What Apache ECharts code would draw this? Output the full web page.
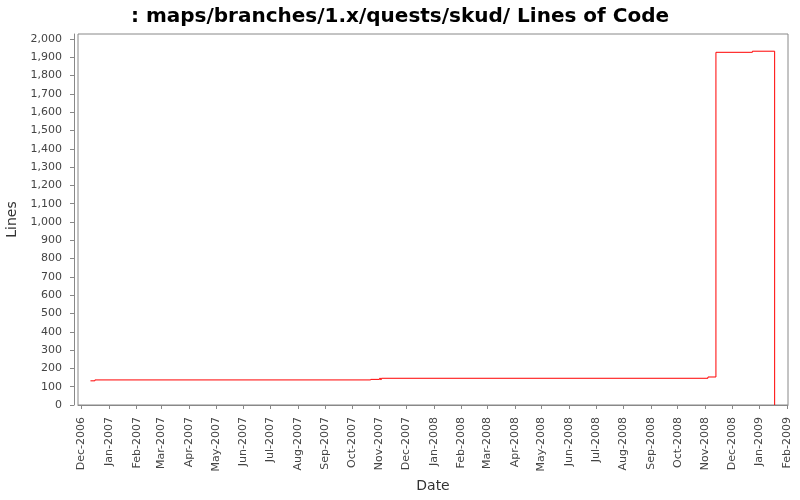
<!DOCTYPE html>
<html>
<head>
<meta charset="utf-8">
<script src="https://cdn.jsdelivr.net/npm/echarts@6/dist/echarts.min.js"></script>
<style>html,body{margin:0;padding:0;background:#fff}#c{width:800px;height:500px}</style>
</head>
<body>
<div id="c"></div>
<script>
// Data (dates as YYYY-MM-DD, values = lines of code)
var dates = ['2006-12-11','2006-12-16','2007-10-22','2007-11-01','2007-11-02','2007-11-03','2008-11-04','2008-11-13','2008-12-24','2009-01-18'];
var lines = [132, 137, 140, 146, 139, 146, 153, 1927, 1933, 0];
var yTicks = [0,100,200,300,400,500,600,700,800,900,1000,1100,1200,1300,1400,1500,1600,1700,1800,1900,2000];
var monthTicks = ['2006-12','2007-01','2007-02','2007-03','2007-04','2007-05','2007-06','2007-07','2007-08','2007-09','2007-10','2007-11','2007-12','2008-01','2008-02','2008-03','2008-04','2008-05','2008-06','2008-07','2008-08','2008-09','2008-10','2008-11','2008-12','2009-01','2009-02'];
var monthNames = ['Jan','Feb','Mar','Apr','May','Jun','Jul','Aug','Sep','Oct','Nov','Dec'];

function ts(s){var p=s.split('-');return Date.UTC(+p[0],+p[1]-1,p[2]?+p[2]:1);}
var seriesData = dates.map(function(d,i){return [ts(d), lines[i]];});
var xTickVals = monthTicks.map(ts);

var chart = echarts.init(document.getElementById('c'));
chart.setOption({
  backgroundColor:'#fff',
  animation:false,
  title:{text:': maps/branches/1.x/quests/skud/ Lines of Code',left:'center',top:2,
    textStyle:{fontFamily:'DejaVu Sans',fontSize:20,fontWeight:'bold',color:'#000'}},
  grid:{left:78,right:12,top:34,bottom:95,show:true,borderColor:'#888',borderWidth:1,backgroundColor:'#fff',
    containLabel:false,outerBoundsMode:'none'},
  xAxis:{type:'value',min:ts('2006-11-27'),max:ts('2009-02-02'),offset:4,
    name:'Date',nameLocation:'middle',nameGap:70,
    nameTextStyle:{fontFamily:'DejaVu Sans',fontSize:14,color:'#333'},
    axisLine:{show:true,lineStyle:{color:'#888'}},
    axisTick:{show:true,customValues:xTickVals,length:4,lineStyle:{color:'#888'}},
    splitLine:{show:false},
    axisLabel:{customValues:xTickVals,rotate:90,fontFamily:'DejaVu Sans',fontSize:11,color:'#444',margin:8,
      formatter:function(v){var d=new Date(v);return monthNames[d.getUTCMonth()]+'-'+d.getUTCFullYear();}}
  },
  yAxis:{type:'value',min:0,max:2027,offset:4,
    name:'Lines',nameLocation:'middle',nameGap:38,
    nameTextStyle:{fontFamily:'DejaVu Sans',fontSize:14,color:'#333'},
    axisLine:{show:true,lineStyle:{color:'#888'}},
    axisTick:{show:true,customValues:yTicks,length:4,lineStyle:{color:'#888'}},
    splitLine:{show:false},
    axisLabel:{customValues:yTicks,fontFamily:'DejaVu Sans',fontSize:11,color:'#444',margin:8,padding:[0,4,0,0],
      formatter:function(v){return String(v).replace(/\B(?=(\d{3})+(?!\d))/g,',');}}
  },
  series:[{type:'custom',data:seriesData,clip:true,
    encode:{x:0,y:1},
    renderItem:function(params, api){
      var i = params.dataIndex;
      var p0 = api.coord([api.value(0), api.value(1)]);
      var pts = [p0];
      if (i + 1 < seriesData.length) {
        var nt = seriesData[i+1][0], nv = seriesData[i+1][1];
        pts.push(api.coord([nt, api.value(1)]));
        pts.push(api.coord([nt, nv]));
      }
      return {type:'polyline',shape:{points:pts},
        style:{stroke:'#ff0000',lineWidth:1,fill:null}};
    }
  }]
});
</script>
</body>
</html>
